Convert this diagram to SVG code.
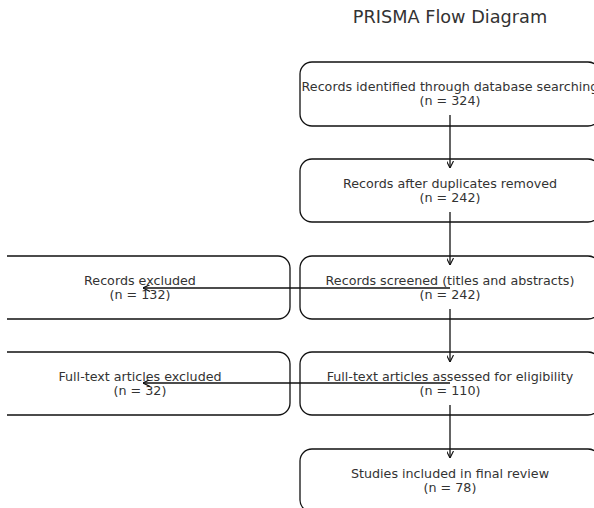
<svg xmlns="http://www.w3.org/2000/svg" width="594" height="508" viewBox="0 0 594 508">
<defs>
<style>
.box{fill:#fff;stroke:#111;stroke-width:1.3}
.t{font-family:"DejaVu Sans",sans-serif;font-size:12.7px;fill:#333;text-anchor:middle}
.title{font-family:"DejaVu Sans",sans-serif;font-size:17.7px;fill:#333;text-anchor:middle}
.c{stroke:#111;stroke-width:1.3;fill:none;marker-end:url(#ah)}
</style>
<marker id="ah" viewBox="0 0 10 10" refX="10" refY="5" markerWidth="7" markerHeight="7" markerUnits="userSpaceOnUse" orient="auto">
<path d="M0,0 L10,5 L0,10" fill="none" stroke="#111" stroke-width="1.6"/>
</marker>
<clipPath id="ax"><rect x="7" y="0" width="587" height="508"/></clipPath>
</defs>
<rect width="594" height="508" fill="#fff"/>
<text class="title" x="450" y="23">PRISMA Flow Diagram</text>
<g clip-path="url(#ax)">
<g id="n1"><rect class="box" x="300" y="62" width="300" height="64" rx="12"/><text class="t" x="450" y="91">Records identified through database searching<tspan x="450" dy="14">(n = 324)</tspan></text></g>
<g id="n2"><rect class="box" x="300" y="159" width="300" height="63" rx="12"/><text class="t" x="450" y="187.5">Records after duplicates removed<tspan x="450" dy="14">(n = 242)</tspan></text></g>
<g id="n3"><rect class="box" x="300" y="256" width="300" height="63" rx="12"/><text class="t" x="450" y="284.5">Records screened (titles and abstracts)<tspan x="450" dy="14">(n = 242)</tspan></text></g>
<g id="n4"><rect class="box" x="-10" y="256" width="300" height="63" rx="12"/><text class="t" x="140" y="284.5">Records excluded<tspan x="140" dy="14">(n = 132)</tspan></text></g>
<g id="n5"><rect class="box" x="300" y="352" width="300" height="63" rx="12"/><text class="t" x="450" y="380.5">Full-text articles assessed for eligibility<tspan x="450" dy="14">(n = 110)</tspan></text></g>
<g id="n6"><rect class="box" x="-10" y="352" width="300" height="63" rx="12"/><text class="t" x="140" y="380.5">Full-text articles excluded<tspan x="140" dy="14">(n = 32)</tspan></text></g>
<g id="n7"><rect class="box" x="300" y="449" width="300" height="63" rx="12"/><text class="t" x="450" y="477.5">Studies included in final review<tspan x="450" dy="14">(n = 78)</tspan></text></g>
</g>
<g id="connectors">
<line class="c" x1="450" y1="115" x2="450" y2="168"/>
<line class="c" x1="450" y1="212" x2="450" y2="265"/>
<line class="c" x1="450" y1="309" x2="450" y2="362"/>
<line class="c" x1="450" y1="405" x2="450" y2="458"/>
<line class="c" x1="450" y1="288" x2="143" y2="288"/>
<line class="c" x1="450" y1="383" x2="143" y2="383"/>
</g>
</svg>
